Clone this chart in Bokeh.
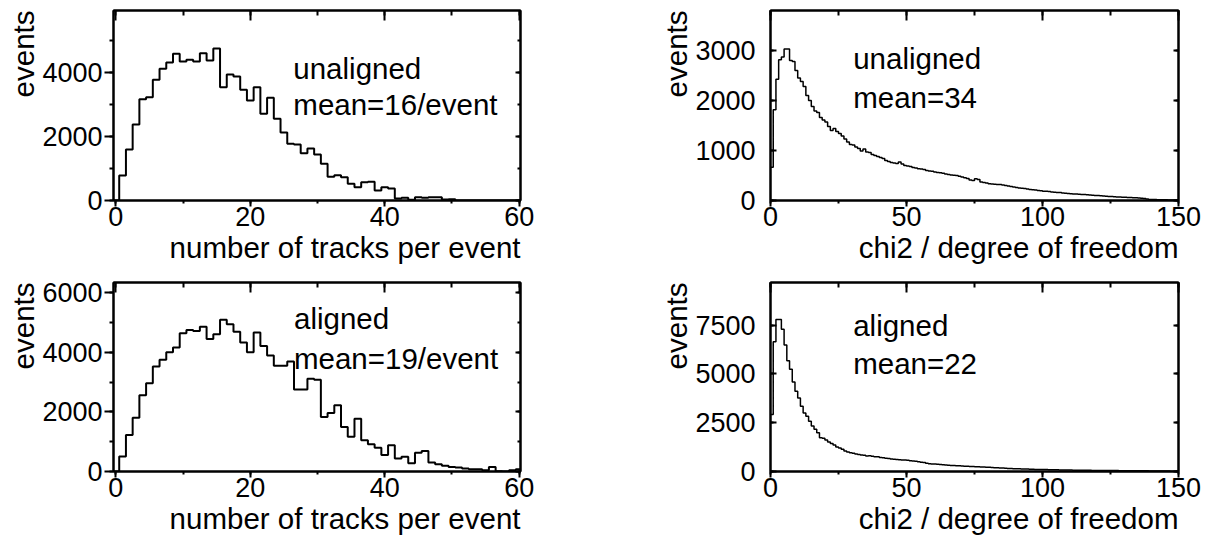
import numpy as np
from bokeh.plotting import figure
from bokeh.models import Range1d, LinearAxis, SingleIntervalTicker, Label, Title, CustomJSTickFormatter
from bokeh.layouts import column, row
from bokeh.embed import file_html
from bokeh.resources import INLINE

FONT = "Liberation Sans"
FS = "27px"      # tick labels
FT = "29.5px"    # titles and annotations

# ---------------- data ----------------
track_centres = list(range(0, 61))
tracks_unaligned = [0, 779, 1589, 2368, 3157, 3219, 3759, 4102, 4299, 4569,
                    4330, 4382, 4330, 4590, 4361, 4735, 3531, 3925, 3863, 3448,
                    3115, 3531, 2700, 3198, 2544, 2118, 1765, 1745, 1475, 1620,
                    1433, 1142, 737, 789, 727, 519, 415, 571, 582, 312,
                    415, 374, 62, 83, 21, 104, 83, 104, 104, 31,
                    42, 0, 0, 0, 0, 0, 0, 0, 0, 0, 0]
tracks_aligned = [0, 501, 1225, 1804, 2561, 2962, 3530, 3753, 4009, 4165,
                  4644, 4755, 4722, 4866, 4454, 4610, 5100, 4944, 4699, 4332,
                  4009, 4666, 4220, 3898, 3552, 3552, 3697, 2751, 2751, 3118,
                  3079, 1832, 1966, 2222, 1498, 1164, 1776, 1052, 919, 796,
                  551, 885, 440, 496, 273, 629, 690, 300, 245, 190,
                  155, 134, 100, 78, 78, 45, 155, 10, 0, 45, 78]

chi2_lefts = list(range(0, 150))
chi2_unaligned = [667, 1813, 2427, 2813, 2870, 3030, 3030, 2800, 2780, 2600,
                  2450, 2380, 2280, 2100, 2000, 1880, 1790, 1760, 1660, 1610,
                  1570, 1480, 1400, 1440, 1380, 1340, 1290, 1230, 1170, 1120,
                  1110, 1070, 1040, 990, 1030, 970, 960, 920, 900, 880,
                  860, 840, 800, 780, 760, 750, 740, 770, 730, 700,
                  690, 680, 660, 650, 635, 630, 620, 600, 590, 585,
                  570, 560, 555, 545, 530, 520, 510, 505, 500, 485,
                  470, 455, 440, 410, 400, 435, 420, 370, 360, 350,
                  335, 330, 325, 322, 320, 310, 300, 290, 280, 272,
                  260, 250, 245, 238, 230, 220, 215, 210, 200, 195,
                  187, 185, 178, 172, 165, 160, 158, 150, 145, 140,
                  133, 132, 128, 125, 122, 120, 115, 110, 105, 100,
                  98, 95, 90, 85, 80, 78, 75, 72, 70, 67,
                  65, 62, 58, 55, 53, 50, 45, 40, 30, 22,
                  20, 18, 17, 15, 14, 13, 12, 11, 10, 10]
chi2_aligned = [2920, 6650, 7790, 7790, 7280, 6480, 5670, 5240, 4580, 4110,
                3770, 3340, 3000, 2830, 2580, 2330, 2160, 1990, 1730, 1700,
                1610, 1510, 1430, 1360, 1260, 1200, 1140, 1050, 1000, 960,
                930, 900, 870, 850, 830, 800, 810, 780, 760, 750,
                720, 700, 680, 660, 640, 630, 610, 600, 590, 590,
                570, 550, 540, 520, 500, 480, 460, 420, 400, 390,
                380, 370, 355, 340, 330, 320, 312, 305, 298, 290,
                282, 275, 270, 262, 255, 248, 240, 232, 226, 220,
                212, 205, 198, 190, 182, 175, 168, 160, 150, 145,
                140, 135, 130, 125, 122, 118, 112, 108, 104, 102,
                100, 97, 94, 91, 88, 85, 82, 80, 77, 75,
                72, 70, 68, 66, 64, 62, 60, 58, 57, 55,
                54, 53, 52, 51, 50, 49, 48, 46, 44, 42,
                40, 39, 38, 37, 36, 35, 34, 34, 33, 32,
                30, 28, 26, 25, 24, 22, 20, 18, 16, 15]

track_xlabel = "number of tracks per event"
chi2_xlabel = "chi2 / degree of freedom"
y_title = "events"
texts_tl = ["unaligned", "mean=16/event"]
texts_bl = ["aligned", "mean=19/event"]
texts_tr = ["unaligned", "mean=34"]
texts_br = ["aligned", "mean=22"]


def style_tick_axis(ax):
    ax.axis_line_width = 2
    ax.major_tick_line_width = 2
    ax.minor_tick_line_width = 2
    ax.major_label_text_font = FONT
    ax.major_label_text_font_size = FS
    ax.major_label_text_color = "black"


def mirror_axis(interval, minor, tin, tmin):
    ax = LinearAxis(ticker=SingleIntervalTicker(interval=interval, num_minor_ticks=minor),
                    formatter=CustomJSTickFormatter(code="return ''"),
                    major_tick_in=tin, major_tick_out=0,
                    minor_tick_in=tmin, minor_tick_out=0,
                    major_label_text_font_size="1px", major_label_standoff=0,
                    axis_line_width=2, major_tick_line_width=2, minor_tick_line_width=2)
    return ax


def axis_title(text):
    return Title(text=text, align="right", offset=0, standoff=0,
                 text_font=FONT, text_font_size=FT, text_font_style="normal",
                 text_color="black")


def panel(edges, counts, xr, yr, xint, yint, yminor, xlabel, lines, tx, ty,
          width, height, mb, left_side, lw):
    p = figure(width=width, height=height, x_range=Range1d(*xr), y_range=Range1d(*yr),
               output_backend="svg", toolbar_location=None,
               min_border_left=mb[0], min_border_right=mb[1],
               min_border_top=mb[2], min_border_bottom=mb[3])
    p.grid.visible = False
    p.outline_line_color = "black"
    p.outline_line_width = 2
    ys = list(counts) + [counts[-1]]
    p.step(x=edges, y=ys, mode="after", line_color="black", line_width=lw)

    xa = p.xaxis[0]
    xa.ticker = SingleIntervalTicker(interval=xint, num_minor_ticks=2)
    xa.major_tick_out = 6
    xa.major_tick_in = 0
    xa.minor_tick_out = 3
    xa.minor_tick_in = 0
    xa.major_label_standoff = 0
    style_tick_axis(xa)

    ya = p.yaxis[0]
    ya.ticker = SingleIntervalTicker(interval=yint, num_minor_ticks=yminor)
    if left_side:
        ya.major_tick_out = 9
        ya.minor_tick_out = 4
        ya.major_tick_in = 0
        ya.minor_tick_in = 0
        ya.major_label_standoff = 2
    else:
        ya.major_tick_out = 0
        ya.minor_tick_out = 0
        ya.major_tick_in = 6
        ya.minor_tick_in = 3
        ya.major_label_standoff = 15
    style_tick_axis(ya)

    p.add_layout(mirror_axis(xint, 2, 10, 5), "above")
    p.add_layout(mirror_axis(yint, yminor, 5, 3), "right")

    # axis titles, right / top aligned as in the original
    p.add_layout(axis_title(xlabel), "below")
    p.add_layout(axis_title(y_title), "left")

    for txt, yy in zip(lines, ty):
        p.add_layout(Label(x=tx, y=yy, text=txt, text_font=FONT, text_font_size=FT,
                           text_color="black", text_baseline="alphabetic", text_align="left"))
    return p


track_edges = [c - 0.5 for c in track_centres] + [track_centres[-1] + 0.5]
chi2_edges = list(chi2_lefts) + [chi2_lefts[-1] + 1]

LW, RW = 600, 605
TH, BH = 276, 265

p1 = panel(track_edges, tracks_unaligned, (-0.35, 60.2), (0, 5920), 20, 2000, 2,
           track_xlabel, texts_tl, 26.4, [4103, 2991], LW, TH, (113, 80, 10, 76), True, 2)
p2 = panel(chi2_edges, chi2_unaligned, (0, 150), (0, 3800), 50, 1000, 1,
           chi2_xlabel, texts_tr, 30.4, [2834, 2054], RW, TH, (170, 27, 10, 76), False, 1.5)
p3 = panel(track_edges, tracks_aligned, (-0.35, 60.2), (0, 6350), 20, 2000, 2,
           track_xlabel, texts_bl, 26.5, [5150, 3813], LW, BH, (113, 80, 6, 70), True, 2)
p4 = panel(chi2_edges, chi2_aligned, (0, 150), (0, 9680), 50, 2500, 1,
           chi2_xlabel, texts_br, 30.4, [7500, 5550], RW, BH, (170, 27, 6, 70), False, 1.5)

layout = column(row(p1, p2), row(p3, p4))
open("out.html", "w").write(file_html(layout, INLINE))
